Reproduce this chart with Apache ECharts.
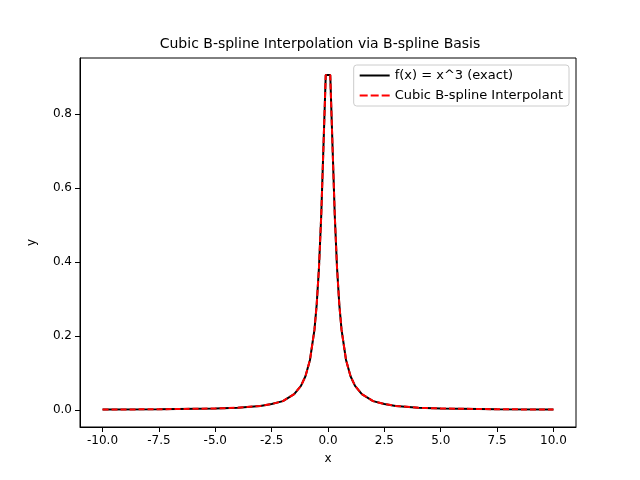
<!doctype html>
<html>
<head>
<meta charset="utf-8">
<script src="https://cdn.jsdelivr.net/npm/echarts@6/dist/echarts.min.js"></script>
<style>html,body{margin:0}#main{width:640px;height:480px}</style>
</head>
<body>
<div id="main"></div>
<script>
// values
var xs = [-10, -7.5, -5, -4, -3, -2.5, -2, -1.5, -1.2, -1, -0.8, -0.6, -0.5, -0.4, -0.3, -0.2, -0.1,
          0.1, 0.2, 0.3, 0.4, 0.5, 0.6, 0.8, 1, 1.2, 1.5, 2, 2.5, 3, 4, 5, 7.5, 10];
var ys = [0.001, 0.002, 0.004, 0.006, 0.011, 0.016, 0.024, 0.043, 0.065, 0.091, 0.135, 0.217, 0.286, 0.385, 0.526, 0.714, 0.905,
          0.905, 0.714, 0.526, 0.385, 0.286, 0.217, 0.135, 0.091, 0.065, 0.043, 0.024, 0.016, 0.011, 0.006, 0.004, 0.002, 0.001];
var xTicks = [-10, -7.5, -5, -2.5, 0, 2.5, 5, 7.5, 10];
var yTicks = [0, 0.2, 0.4, 0.6, 0.8];

var pts = xs.map(function (x, i) { return [x, ys[i]]; });
var font = 'DejaVu Sans';
var chart = echarts.init(document.getElementById('main'));
chart.setOption({
    animation: false,
    title: {
        text: 'Cubic B-spline Interpolation via B-spline Basis',
        left: 'center', top: 32,
        textStyle: { fontFamily: font, fontSize: 14, fontWeight: 'normal', color: '#000' }
    },
    grid: { left: 80, right: 64, top: 58, bottom: 53 },
    legend: {
        right: 71, top: 65, orient: 'vertical',
        borderColor: '#ccc', borderWidth: 1, borderRadius: 3, padding: [4, 6],
        itemWidth: 30, itemHeight: 10, itemGap: 7,
        textStyle: { fontFamily: font, fontSize: 13, color: '#000' },
        data: [
            { name: 'f(x) = x^3 (exact)', icon: 'path://M0,4h30v2h-30z' },
            { name: 'Cubic B-spline Interpolant', icon: 'path://M0,4h8v2h-8zM11,4h8v2h-8zM22,4h8v2h-8z' }
        ]
    },
    xAxis: {
        type: 'value', min: -11, max: 11, name: 'x', nameLocation: 'middle', nameGap: 26,
        nameTextStyle: { fontFamily: font, fontSize: 12, color: '#000' },
        splitLine: { show: false },
        axisLine: { onZero: false, lineStyle: { color: '#000' } },
        axisTick: { customValues: xTicks, lineStyle: { color: '#000' } },
        axisLabel: { customValues: xTicks, fontFamily: font, fontSize: 12, color: '#000',
            formatter: function (v) { return v.toFixed(1); } }
    },
    yAxis: {
        type: 'value', min: -0.046, max: 0.951, name: 'y', nameLocation: 'middle', nameGap: 42,
        nameTextStyle: { fontFamily: font, fontSize: 12, color: '#000' },
        splitLine: { show: false },
        axisLine: { show: true, onZero: false, lineStyle: { color: '#000' } },
        axisTick: { show: true, customValues: yTicks, lineStyle: { color: '#000' } },
        axisLabel: { customValues: yTicks, fontFamily: font, fontSize: 12, color: '#000',
            formatter: function (v) { return v.toFixed(1); } }
    },
    series: [
        { name: 'f(x) = x^3 (exact)', type: 'line', data: pts, showSymbol: false,
          itemStyle: { color: '#000' }, lineStyle: { color: '#000', width: 2 } },
        { name: 'Cubic B-spline Interpolant', type: 'line', data: pts, showSymbol: false,
          itemStyle: { color: '#ff0000' }, lineStyle: { color: '#ff0000', width: 2, type: [6, 3] } }
    ],
    graphic: [{ type: 'rect', shape: { x: 80, y: 58, width: 496, height: 369 },
        style: { fill: null, stroke: '#000', lineWidth: 1 }, silent: true }]
});
</script>
</body>
</html>
